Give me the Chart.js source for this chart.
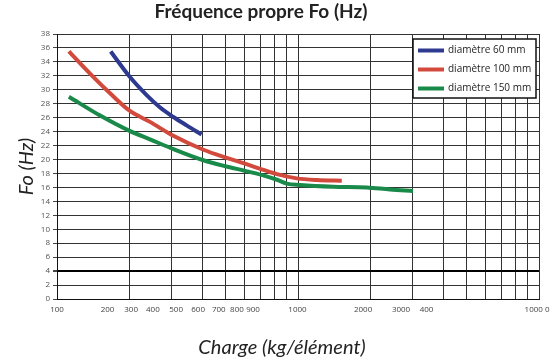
<!DOCTYPE html>
<html>
<head>
<meta charset="utf-8">
<script src="https://cdn.jsdelivr.net/npm/chart.js@4/dist/chart.umd.min.js"></script>
<style>
  body { margin: 0; background: #fff; }
  #wrap { width: 556px; height: 363px; position: relative; }
</style>
</head>
<body>
<div id="wrap"><canvas id="fo"></canvas></div>
<script>
// charge (kg/élément) -> fréquence propre (Hz)
var charge60 = [167, 200, 236, 267, 304, 345, 398]
var fo60 = [35.5, 31.9, 29.2, 27.5, 26.1, 24.9, 23.6]

var charge100 = [112, 140, 166, 200, 243, 304, 405, 510, 603, 707, 818, 988, 1196, 1520]
var fo100 = [35.5, 32.0, 29.5, 27.0, 25.4, 23.4, 21.4, 20.2, 19.4, 18.6, 17.9, 17.3, 17.06, 16.96]

var charge150 = [112, 151, 200, 243, 304, 405, 505, 600, 705, 818, 898, 1019, 1400, 1928, 2409, 3000]
var fo150 = [29.0, 26.3, 24.1, 22.9, 21.5, 19.9, 19.0, 18.4, 17.8, 17.1, 16.55, 16.35, 16.1, 16.0, 15.7, 15.5]

var seriesNames = ['diamètre 60 mm', 'diamètre 100 mm', 'diamètre 150 mm']

// grille verticale (échelle log) et étiquettes telles qu'imprimées sur l'original
var gridCharges = [100, 200, 300, 400, 500, 600, 700, 800, 900, 1000, 2000, 3000, 4000, 5000, 6000, 7000, 8000, 9000, 10000]
var tickLabels = ['100', '200', '300', '400', '500', '600', '700', '800', '900', '1000', '2000', '3000', '400', '1000 0']
var tickLabelAt = [100, 162, 203, 250, 312, 385, 469, 558, 651, 995, 1862, 2676, 3414, 9817]

function toPoints(xs, ys) {
  return xs.map(function (x, i) { return {x: x, y: ys[i]} })
}

function line(label, xs, ys, color) {
  return {
    label: label,
    data: toPoints(xs, ys),
    borderColor: color,
    backgroundColor: color,
    borderWidth: 4,
    pointRadius: 0,
    cubicInterpolationMode: 'monotone',
    xAxisID: 'x',
    yAxisID: 'y'
  }
}

// légende encadrée dans le coin haut-droit de la zone de tracé
var boxLegend = {
  id: 'boxLegend',
  afterDraw: function (chart) {
    var ctx = chart.ctx
    var area = chart.chartArea
    var w = 123, h = 59
    var left = area.right - 3 - w
    var top = area.top + 5
    ctx.save()
    ctx.fillStyle = '#fff'
    ctx.fillRect(left, top, w, h)
    ctx.strokeStyle = '#111'
    ctx.lineWidth = 1.5
    ctx.strokeRect(left, top, w, h)
    chart.data.datasets.forEach(function (ds, i) {
      var y = top + 11.5 + i * 19
      ctx.strokeStyle = ds.borderColor
      ctx.lineWidth = 4
      ctx.beginPath()
      ctx.moveTo(left + 5, y)
      ctx.lineTo(left + 31, y)
      ctx.stroke()
      ctx.fillStyle = '#222'
      ctx.font = '10px "Open Sans"'
      ctx.textBaseline = 'middle'
      ctx.textAlign = 'left'
      ctx.fillText(ds.label, left + 35, y)
    })
    ctx.restore()
  }
}

// sur l'original, les titres ne sont pas centrés sur la zone de tracé
var titleShift = {
  id: 'titleShift',
  afterLayout: function (chart) {
    if (chart.titleBlock) chart.titleBlock.right = chart.width - 34
    var xt = chart.scales.xt
    if (xt) {
      xt.left = 17
      xt.right = 547
    }
  }
}

var ctx = document.getElementById('fo').getContext('2d')
var chart = new Chart(ctx, {
  type: 'line',
  data: {
    datasets: [
      line(seriesNames[0], charge60, fo60, '#2e3a8f'),
      line(seriesNames[1], charge100, fo100, '#d24a3c'),
      line(seriesNames[2], charge150, fo150, '#1a8a4a')
    ]
  },
  plugins: [boxLegend, titleShift],
  options: {
    responsive: true,
    maintainAspectRatio: false,
    animation: false,
    layout: {padding: {top: 0, right: 17, bottom: 0, left: 0}},
    plugins: {
      legend: {display: false},
      tooltip: {enabled: false},
      title: {
        display: true,
        text: 'Fréquence propre Fo (Hz)',
        color: '#222',
        font: {family: 'Lato', size: 19, weight: 'bold'},
        padding: {top: 0, bottom: 11.2}
      }
    },
    scales: {
      x: {
        type: 'logarithmic',
        position: 'bottom',
        weight: 0,
        min: 100,
        max: 10000,
        afterBuildTicks: function (s) {
          s.ticks = gridCharges.map(function (v) { return {value: v} })
        },
        afterFit: function (s) { s.height = 0 },
        ticks: {display: false},
        grid: {color: '#333', lineWidth: 1, drawTicks: false},
        border: {color: '#111', width: 1}
      },
      xl: {
        type: 'logarithmic',
        position: 'bottom',
        weight: 1,
        min: 100,
        max: 10000,
        afterBuildTicks: function (s) {
          s.ticks = tickLabelAt.map(function (v) { return {value: v} })
        },
        afterFit: function (s) { s.height = 22 },
        ticks: {
          autoSkip: false,
          maxRotation: 0,
          padding: 6,
          color: '#444',
          font: {family: 'Open Sans', size: 8},
          callback: function (v, i) { return tickLabels[i] }
        },
        grid: {display: false, drawTicks: false},
        border: {display: false}
      },
      xt: {
        type: 'linear',
        position: 'bottom',
        weight: 2,
        afterFit: function (s) { s.height = 42 },
        ticks: {display: false},
        grid: {display: false, drawTicks: false},
        border: {display: false},
        title: {
          display: true,
          text: 'Charge (kg/élément)',
          color: '#222',
          font: {family: 'Lato', size: 20, style: 'italic'},
          padding: {top: 0, bottom: 3}
        }
      },
      y: {
        min: 0,
        max: 38,
        afterFit: function (s) { s.width = 57 },
        ticks: {
          stepSize: 2,
          padding: 3,
          color: '#555',
          font: {family: 'Open Sans', size: 8}
        },
        grid: {
          color: function (c) { return c.tick && c.tick.value === 4 ? '#000' : '#333' },
          lineWidth: function (c) { return c.tick && c.tick.value === 4 ? 2 : 1 },
          tickLength: 4,
          tickColor: '#444'
        },
        border: {color: '#111', width: 1},
        title: {
          display: true,
          text: 'Fo (Hz)',
          color: '#222',
          font: {family: 'Lato', size: 20, style: 'italic'},
          padding: {top: 15, bottom: 0}
        }
      }
    }
  }
})
</script>
</body>
</html>
